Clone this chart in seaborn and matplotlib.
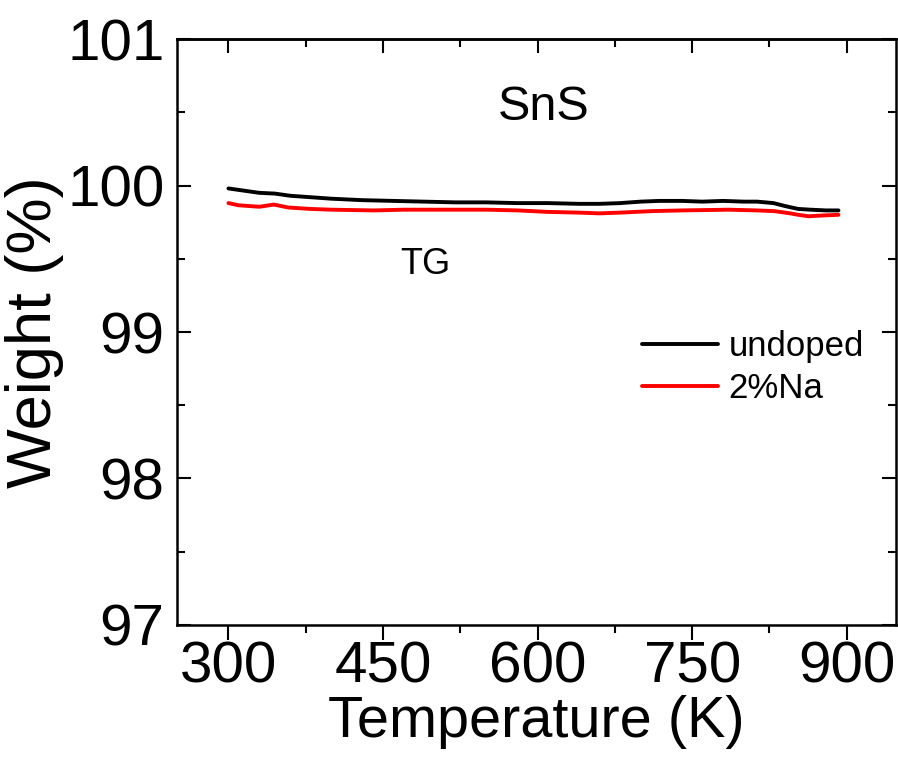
import numpy as np
import pandas as pd
import matplotlib
matplotlib.use("Agg")
import matplotlib.pyplot as plt
import seaborn as sns
from matplotlib.ticker import MultipleLocator

# data
temp_undoped = [300, 310, 320, 330, 345, 360, 380, 400, 430, 460, 490, 520, 550, 580,
                610, 640, 660, 680, 700, 718, 740, 760, 780, 800, 813, 829, 840, 853,
                865, 880, 892]
weight_undoped = [99.98, 99.97, 99.96, 99.95, 99.945, 99.93, 99.92, 99.91, 99.90, 99.895,
                  99.89, 99.885, 99.885, 99.88, 99.88, 99.875, 99.875, 99.88, 99.89,
                  99.895, 99.895, 99.89, 99.895, 99.89, 99.89, 99.88, 99.86, 99.84,
                  99.835, 99.83, 99.83]
temp_na = [300, 310, 320, 330, 344, 358, 380, 400, 441, 470, 500, 520, 550, 581, 610,
           640, 660, 680, 710, 740, 785, 813, 830, 845, 853, 863, 875, 892]
weight_na = [99.88, 99.865, 99.86, 99.855, 99.87, 99.85, 99.84, 99.835, 99.83, 99.835,
             99.835, 99.835, 99.835, 99.83, 99.82, 99.815, 99.81, 99.815, 99.825, 99.83,
             99.835, 99.83, 99.825, 99.81, 99.80, 99.79, 99.795, 99.80]
labels = ["undoped", "2%Na"]
colors = ["black", "red"]

df = pd.concat([
    pd.DataFrame({"T": temp_undoped, "W": weight_undoped, "sample": labels[0]}),
    pd.DataFrame({"T": temp_na, "W": weight_na, "sample": labels[1]}),
])

sns.set_style("ticks")
plt.rcParams["font.family"] = ["Liberation Sans", "DejaVu Sans"]
plt.rcParams["text.color"] = "black"
plt.rcParams["axes.labelcolor"] = "black"
plt.rcParams["xtick.color"] = "black"
plt.rcParams["ytick.color"] = "black"
plt.rcParams["axes.edgecolor"] = "black"

fig = plt.figure(figsize=(8.98, 7.73), dpi=100)
ax = fig.add_axes([0.197, 0.1915, 0.801, 0.758])

sns.lineplot(data=df, x="T", y="W", hue="sample", palette=colors, lw=2.8,
             sort=False, ax=ax, legend=False)
for lab, c in zip(labels, colors):
    ax.plot([], [], color=c, lw=2.8, label=lab)

ax.set_xlim(250, 948)
ax.set_ylim(97, 101)
ax.xaxis.set_major_locator(MultipleLocator(150))
ax.xaxis.set_minor_locator(MultipleLocator(75))
ax.yaxis.set_major_locator(MultipleLocator(1))
ax.yaxis.set_minor_locator(MultipleLocator(0.5))

for s in ax.spines.values():
    s.set_linewidth(1.8)
    s.set_visible(True)

ax.tick_params(axis="x", which="both", direction="out", bottom=True, top=False,
               labelsize=42, width=1.5, pad=1)
ax.tick_params(axis="x", which="major", length=10.5)
ax.tick_params(axis="x", which="minor", length=6)
ax.tick_params(axis="y", which="both", direction="in", left=True, right=True,
               labelsize=42, width=1.5, pad=9)
ax.tick_params(axis="y", which="major", length=10)
ax.tick_params(axis="y", which="minor", length=6)

# mirrored inward ticks on the top
top = ax.secondary_xaxis("top")
top.xaxis.set_major_locator(MultipleLocator(150))
top.xaxis.set_minor_locator(MultipleLocator(75))
top.tick_params(which="both", direction="in", width=1.5, labeltop=False)
top.tick_params(which="major", length=10)
top.tick_params(which="minor", length=6)
top.spines["top"].set_linewidth(1.8)

ax.set_xlabel("Temperature (K)", fontsize=41.5, labelpad=0)
ax.set_ylabel("Weight (%)", fontsize=45.5, labelpad=2)

ax.text(606, 100.53, "SnS", fontsize=35, ha="center", va="center")
ax.text(491, 99.46, "TG", fontsize=26, ha="center", va="center")

ax.legend(loc="upper left", bbox_to_anchor=(0.627, 0.527), frameon=False,
          fontsize=25, handlelength=2.2, handletextpad=0.3, labelspacing=0.25,
          borderaxespad=0)

fig.savefig("out.png", dpi=100)
